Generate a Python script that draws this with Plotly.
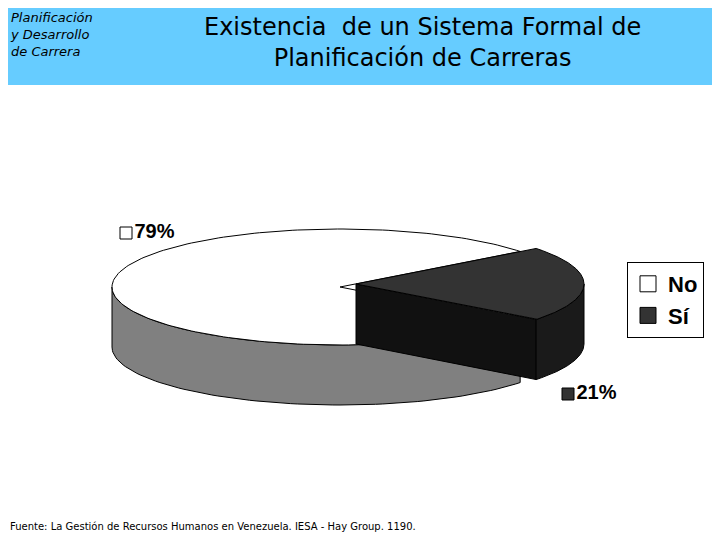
import numpy as np
import plotly.graph_objects as go

labels = ["No", "Sí"]
values = [79, 21]
pct_text = ["79%", "21%"]
top_colors = ["#ffffff", "#333333"]
side_colors = ["#808080", "#1a1a1a"]

# pie geometry in page pixels (page has an 8px body margin)
cx, cy, rx, ry, depth = 340, 287, 228, 58, 60
explode = [(0, 0), (16, -3)]
W, H, M = 720, 540, 8

fig = go.Figure()

def pt(t, dx=0, dy=0):
    return cx + dx + rx * np.cos(t), cy + dy - ry * np.sin(t)

def poly(xs, ys, fill, line="#000000"):
    fig.add_trace(go.Scatter(x=list(xs) + [xs[0]], y=list(ys) + [ys[0]], mode="lines",
                             fill="toself", fillcolor=fill, line=dict(color=line, width=1),
                             hoverinfo="skip", showlegend=False))

span_si = values[1] / sum(values) * 2 * np.pi
ranges = [(span_si / 2, 2 * np.pi - span_si / 2), (-span_si / 2, span_si / 2)]

for i in range(2):
    a0, a1 = ranges[i]
    dx, dy = explode[i]
    if i == 1:
        x0, y0 = pt(a0, dx, dy)
        poly([cx + dx, x0, x0, cx + dx], [cy + dy, y0, y0 + depth, cy + dy + depth], "#111111")
    f0 = max(a0, np.pi) if i == 0 else a0
    f1 = a1 if i == 0 else min(a1, 0)
    ts = np.linspace(f0, f1, 80)
    xs, ys = pt(ts, dx, dy)
    poly(np.concatenate([xs, xs[::-1]]), np.concatenate([ys, (ys + depth)[::-1]]), side_colors[i])
    ts = np.linspace(a0, a1, 200)
    xs, ys = pt(ts, dx, dy)
    poly(np.concatenate([[cx + dx], xs]), np.concatenate([[cy + dy], ys]), top_colors[i])

for i in range(2):
    fig.add_trace(go.Scatter(x=[None], y=[None], mode="markers", name="<b>%s</b>" % labels[i],
                             marker=dict(symbol="square", size=16, color=top_colors[i],
                                         line=dict(color="#000000", width=1))))

lab_pos = [(126, 233), (568, 394)]
for i in range(2):
    fig.add_trace(go.Scatter(x=[lab_pos[i][0]], y=[lab_pos[i][1]], mode="markers+text",
                             text=["<b>%s</b>" % pct_text[i]], textposition="middle right",
                             textfont=dict(family="Liberation Sans", size=20, color="#000000"),
                             marker=dict(symbol="square", size=12, color=top_colors[i],
                                         line=dict(color="#000000", width=1)),
                             hoverinfo="skip", showlegend=False))

fig.add_shape(type="rect", xref="x", yref="y", x0=0, x1=W, y0=0, y1=85,
              fillcolor="#66ccff", line_width=0, layer="below")
fig.add_annotation(x=8, y=8, xref="x", yref="y", xanchor="left", yanchor="top", showarrow=False,
                   align="left", text="<i>Planificación<br>y Desarrollo<br>de Carrera</i>",
                   font=dict(family="DejaVu Sans", size=13, color="#000000"))
fig.add_annotation(x=422, y=42, xref="x", yref="y", showarrow=False,
                   text="Existencia  de un Sistema Formal de<br>Planificación de Carreras",
                   font=dict(family="DejaVu Sans", size=24, color="#000000"))
fig.add_annotation(x=8, y=526, xref="x", yref="y", xanchor="left", showarrow=False,
                   text="Fuente: La Gestión de Recursos Humanos en Venezuela. IESA - Hay Group. 1190.",
                   font=dict(family="DejaVu Sans", size=10, color="#000000"))

fig.update_layout(
    width=W - 2 * M, height=H - 2 * M, margin=dict(l=0, r=0, t=0, b=0),
    plot_bgcolor="#ffffff", paper_bgcolor="#ffffff",
    xaxis=dict(range=[M, W - M], visible=False, fixedrange=True),
    yaxis=dict(range=[H - M, M], visible=False, fixedrange=True),
    legend=dict(x=(627 - M) / (W - 2 * M), y=1 - (262 - M) / (H - 2 * M), xanchor="left", yanchor="top",
                bordercolor="#000000", borderwidth=1, bgcolor="#ffffff",
                font=dict(family="Liberation Sans", size=22, color="#000000")),
)
fig.write_html("out.html")
